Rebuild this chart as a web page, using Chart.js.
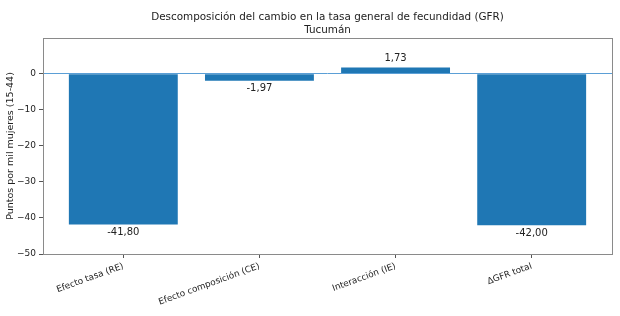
<!DOCTYPE html>
<html>
<head>
<meta charset="utf-8">
<script src="https://cdn.jsdelivr.net/npm/chart.js@4/dist/chart.umd.min.js"></script>
<style>
  html, body { margin: 0; padding: 0; background: #fff; }
  #wrap { width: 620px; height: 316px; }
</style>
</head>
<body>
<div id="wrap"><canvas id="gfrChart" width="620" height="316"></canvas></div>
<script>
// ---- data ----
const chartTitle = ['Descomposición del cambio en la tasa general de fecundidad (GFR)', 'Tucumán'];
const categories = ['Efecto tasa (RE)', 'Efecto composición (CE)', 'Interacción (IE)', 'ΔGFR total'];
const values = [-41.80, -1.97, 1.73, -42.00];
const yTicks = [-50, -40, -30, -20, -10, 0];

const BAR_BLUE = '#1f77b4';
const FONT = "'DejaVu Sans', sans-serif";
const fmt = v => v.toFixed(2).replace('.', ',');

// title centred on plot area (matplotlib style), value labels, frame, zero line
const decorPlugin = {
    id: 'decor',
    afterDraw(chart) {
        const { ctx, chartArea: a, scales: { x, y } } = chart;
        ctx.save();
        // zero line (axhline), drawn over the bars
        const y0 = Math.floor(y.getPixelForValue(0)) + 0.5;
        ctx.strokeStyle = '#5b9fd6';
        ctx.lineWidth = 1;
        ctx.beginPath();
        ctx.moveTo(a.left, y0);
        ctx.lineTo(a.right, y0);
        ctx.stroke();

        // bar labels
        ctx.fillStyle = '#222';
        ctx.font = '10px ' + FONT;
        ctx.textAlign = 'center';
        values.forEach((v, i) => {
            const px = x.getPixelForValue(i);
            const py = y.getPixelForValue(v);
            if (v < 0) {
                ctx.textBaseline = 'top';
                ctx.fillText(fmt(v), px, py + 3);
            } else {
                ctx.textBaseline = 'bottom';
                ctx.fillText(fmt(v), px, py - 4);
            }
        });

        // frame (spines)
        ctx.strokeStyle = '#8a8a8a';
        ctx.lineWidth = 1;
        ctx.strokeRect(Math.round(a.left) + 0.5, Math.round(a.top) + 0.5,
                       Math.round(a.right - a.left), Math.round(a.bottom - a.top));

        // title
        ctx.fillStyle = '#222';
        ctx.font = '10.4px ' + FONT;
        ctx.textBaseline = 'middle';
        const cx = (a.left + a.right) / 2;
        ctx.fillText(chartTitle[0], cx, 17);
        ctx.fillText(chartTitle[1], cx, 30);
        ctx.restore();
    }
};

new Chart(document.getElementById('gfrChart'), {
    type: 'bar',
    data: {
        datasets: [{
            data: values.map((v, i) => ({ x: i, y: v })),
            backgroundColor: BAR_BLUE,
            borderWidth: 0,
            barPercentage: 0.8,
            categoryPercentage: 1.0
        }]
    },
    options: {
        responsive: false,
        animation: false,
        devicePixelRatio: 1,
        layout: { padding: { left: 5, right: 8, top: 38, bottom: 0 } },
        plugins: {
            legend: { display: false },
            tooltip: { enabled: false },
            title: { display: false }
        },
        scales: {
            x: {
                type: 'linear',
                min: -0.59,
                max: 3.59,
                offset: false,
                afterBuildTicks: s => { s.ticks = categories.map((_, i) => ({ value: i })); },
                afterFit: s => { s.height = 62; },
                grid: { display: true, offset: false, drawOnChartArea: false, drawTicks: true, tickLength: 4, color: '#555' },
                border: { display: false },
                ticks: {
                    autoSkip: false,
                    maxRotation: 20,
                    minRotation: 20,
                    padding: 3,
                    color: '#222',
                    font: { family: FONT, size: 8.8 },
                    callback: v => categories[v] ?? ''
                }
            },
            y: {
                min: -50,
                max: 9.9,
                afterBuildTicks: s => { s.ticks = yTicks.map(v => ({ value: v })); },
                afterFit: s => { s.width = 38; },
                grid: { display: true, drawOnChartArea: false, drawTicks: true, tickLength: 4, color: '#555' },
                border: { display: false },
                ticks: {
                    padding: 3,
                    color: '#222',
                    font: { family: FONT, size: 9 },
                    callback: v => (v < 0 ? '\u2212' + Math.abs(v) : String(v))
                },
                title: {
                    display: true,
                    text: 'Puntos por mil mujeres (15-44)',
                    color: '#222',
                    font: { family: FONT, size: 9.5 },
                    padding: { top: 0, bottom: 3 }
                }
            }
        }
    },
    plugins: [decorPlugin]
});
</script>
</body>
</html>
